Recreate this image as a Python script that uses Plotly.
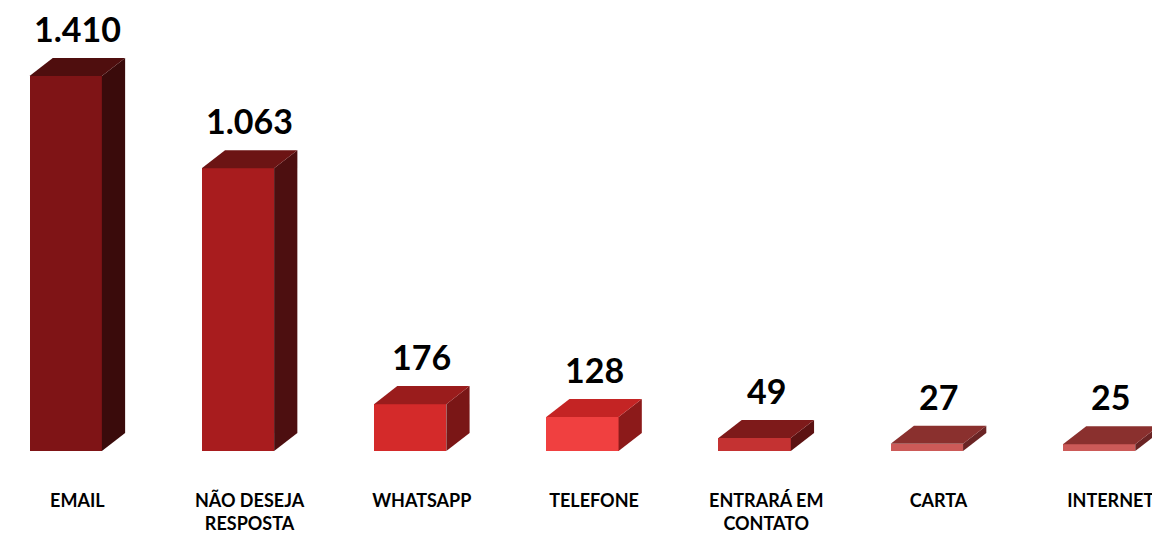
import plotly.graph_objects as go

categories = ["EMAIL", "NÃO DESEJA<br>RESPOSTA", "WHATSAPP", "TELEFONE",
              "ENTRARÁ EM<br>CONTATO", "CARTA", "INTERNET"]
values = [1410, 1063, 176, 128, 49, 27, 25]
value_labels = ["1.410", "1.063", "176", "128", "49", "27", "25"]

front_colors = ["#7f1416", "#a81c1e", "#d42a2a", "#f04040", "#c43232", "#cc5a58", "#cc5a58"]
top_colors = ["#4f0e0e", "#6c1414", "#9a1c1c", "#c42424", "#7e1a1a", "#8a302e", "#8a302e"]
side_colors = ["#3a0b0b", "#4d0f10", "#7a1616", "#8c1a1a", "#5c1212", "#6a2424", "#6a2424"]

half_w = 0.21    # half bar width (x units)
dx = 0.135       # depth offset x
dy = 68          # depth offset y

fig = go.Figure()
for i, v in enumerate(values):
    fig.add_trace(go.Bar(x=[i], y=[v], width=2 * half_w, marker_color=front_colors[i],
                         marker_line_width=0, showlegend=False, hoverinfo="skip"))
    xl, xr = i - half_w, i + half_w
    fig.add_trace(go.Scatter(x=[xr, xr + dx, xr + dx, xr, xr], y=[0, dy, v + dy, v, 0],
                             fill="toself", fillcolor=side_colors[i], mode="lines",
                             line=dict(width=0, color=side_colors[i]),
                             showlegend=False, hoverinfo="skip"))
    fig.add_trace(go.Scatter(x=[xl, xl + dx, xr + dx, xr, xl], y=[v, v + dy, v + dy, v, v],
                             fill="toself", fillcolor=top_colors[i], mode="lines",
                             line=dict(width=0, color=top_colors[i]),
                             showlegend=False, hoverinfo="skip"))
    fig.add_annotation(x=i + dx / 2, y=v + dy, text=value_labels[i], showarrow=False,
                       yanchor="bottom", yshift=7,
                       font=dict(family="Lato", size=34, color="black", weight="bold"))

fig.update_layout(
    width=1160, height=533,
    margin=dict(l=0, r=0, t=0, b=90),
    plot_bgcolor="white", paper_bgcolor="white",
    bargap=0,
    xaxis=dict(range=[-0.335, 6.4], tickmode="array",
               tickvals=[i + dx / 2 for i in range(len(categories))],
               ticktext=["<b>%s</b>" % c for c in categories],
               tickfont=dict(family="Lato", size=18, color="black"),
               showgrid=False, zeroline=False, showline=False, ticks="",
               ticklabelstandoff=37, ticklabeloverflow="allow"),
    yaxis=dict(range=[0, 1666], visible=False, showgrid=False, zeroline=False),
)

fig.write_html("out.html")
